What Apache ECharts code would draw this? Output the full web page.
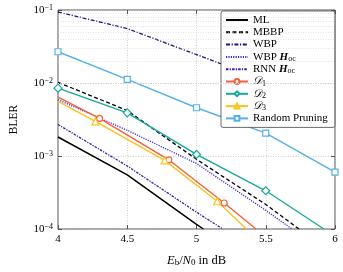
<!DOCTYPE html>
<html><head><meta charset="utf-8">
<script src="https://cdn.jsdelivr.net/npm/echarts@6/dist/echarts.min.js"></script>
<style>html,body{margin:0;padding:0;background:#fff}#c{width:343px;height:272px}</style>
</head><body><div id="c"></div>
<script>
// ---- data ----
const xTicks = [4, 4.5, 5, 5.5, 6];
const seriesNames = ['ML', 'MBBP', 'WBP', 'WBP Hoc', 'RNN Hoc', 'D1', 'D2', 'D3', 'Random Pruning'];
const noMarker = ['ML', 'MBBP', 'WBP', 'WBP Hoc', 'RNN Hoc'];
const xML = [4, 4.5, 5, 5.05];
const yML = [0.00182, 0.00055, 0.000116, 0.0001];
const xMBBP = [4, 4.5, 5, 5.5, 5.74];
const yMBBP = [0.0102, 0.0042, 0.0009, 0.000217, 0.0001];
const xWBP = [4, 4.5, 5, 5.5, 6];
const yWBP = [0.094, 0.0557, 0.0245, 0.0108, 0.0047];
const xWBPH = [4, 4.5, 5, 5.5, 5.69];
const yWBPH = [0.0059, 0.00225, 0.00079, 0.00018, 0.0001];
const xRNN = [4, 4.5, 5, 5.19];
const yRNN = [0.0027, 0.00073, 0.00017, 0.0001];
const xD1 = [4, 4.3, 4.8, 5.2, 5.43];
const yD1 = [0.0064, 0.00327, 0.000887, 0.000227, 0.0001];
const mD1 = [0, 1, 1, 1, 0];
const xD2 = [4, 4.5, 5, 5.5, 5.92];
const yD2 = [0.0085, 0.0039, 0.00105, 0.000334, 0.0001];
const mD2 = [1, 1, 1, 1, 0];
const xD3 = [4, 4.27, 4.77, 5.15, 5.36];
const yD3 = [0.0056, 0.00298, 0.00087, 0.00024, 0.0001];
const mD3 = [0, 1, 1, 1, 0];
const xRP = [4, 4.5, 5, 5.5, 6];
const yRP = [0.0268, 0.0112, 0.00458, 0.00206, 0.0006];
const mRP = [1, 1, 1, 1, 1];
const minorY = [2,3,4,5,6,7,8,9].flatMap(k => [k*1e-4, k*1e-3, k*1e-2]);

const FONT = 'Liberation Serif';
function pts(xs, ys, ms) {
  return xs.map((x, i) => {
    const d = { value: [x, ys[i]] };
    if (ms && !ms[i]) d.symbol = 'none';
    return d;
  });
}
function lineSeries(name, xs, ys, color, type, width, symbol, ms, extra) {
  return Object.assign({
    name, type: 'line', data: pts(xs, ys, ms), clip: true,
    symbol: symbol || 'none', symbolSize: 6, showSymbol: true,
    lineStyle: { color, width, type },
    itemStyle: { color: '#fff', borderColor: color, borderWidth: 1.2 },
    emphasis: { disabled: true }, animation: false
  }, extra || {});
}
const sub = { fontSize: 8, lineHeight: 8, padding: [4, 0, 0, 0], verticalAlign: 'bottom', fontFamily: FONT, color: '#000' };
const rich = {
  n: { fontSize: 11, lineHeight: 12, fontFamily: FONT, color: '#000' },
  h: { fontSize: 11, lineHeight: 12, fontFamily: FONT, fontWeight: 'bold', fontStyle: 'italic', color: '#000' },
  d: { fontSize: 11, lineHeight: 12, fontFamily: FONT, fontStyle: 'italic', color: '#000' },
  s: sub
};
const legendText = {
  'ML': '{n|ML}', 'MBBP': '{n|MBBP}', 'WBP': '{n|WBP}',
  'WBP Hoc': '{n|WBP }{h|H}{s|oc}', 'RNN Hoc': '{n|RNN }{h|H}{s|oc}',
  'D1': '{d|𝒟}{s|1}', 'D2': '{d|𝒟}{s|2}', 'D3': '{d|𝒟}{s|3}',
  'Random Pruning': '{n|Random Pruning}'
};
const gridColor = '#bdbdbd';
const chart = echarts.init(document.getElementById('c'), null, { renderer: 'canvas' });
chart.setOption({
  animation: false,
  grid: { left: 52, right: 8, top: 10, bottom: 38, show: true, borderColor: '#555', borderWidth: 1, backgroundColor: 'transparent' },
  legend: {
    orient: 'vertical', left: 221, top: 11,
    data: seriesNames.map(n => noMarker.includes(n)
      ? { name: n, itemStyle: { opacity: 0, borderWidth: 0, color: 'rgba(0,0,0,0)', borderColor: 'rgba(0,0,0,0)' } }
      : { name: n }),
    itemWidth: 22, itemHeight: 6, itemGap: 0.3,
    padding: [3, 7, 3, 4],
    backgroundColor: '#fff', borderColor: '#444', borderWidth: 0.8, borderRadius: 2,
    formatter: n => legendText[n],
    textStyle: { fontFamily: FONT, fontSize: 11, lineHeight: 12, rich },
    selectedMode: false
  },
  xAxis: [{
    type: 'value', min: 4, max: 6, interval: 0.5, position: 'bottom',
    axisLine: { show: false },
    axisTick: { show: true, inside: true, length: 4, lineStyle: { color: '#555' } },
    axisLabel: { fontFamily: FONT, fontSize: 11, color: '#000', margin: 5, formatter: v => String(v) },
    splitLine: { show: true, lineStyle: { color: gridColor, type: [1, 1.5], width: 0.7 } },
    name: '{i|E}{s|b}{n|/}{i|N}{s|0}{n| in dB}', nameLocation: 'middle', nameGap: 25,
    nameTextStyle: { rich: {
      i: { fontSize: 12.5, lineHeight: 13, fontFamily: FONT, fontStyle: 'italic', color: '#000' },
      n: { fontSize: 12.5, lineHeight: 13, fontFamily: FONT, color: '#000' },
      s: { fontSize: 9, lineHeight: 9, padding: [5, 0, 0, 0], verticalAlign: 'bottom', fontFamily: FONT, color: '#000' } } }
  }, {
    type: 'value', min: 4, max: 6, interval: 0.5, position: 'top',
    axisLine: { show: false }, axisLabel: { show: false }, splitLine: { show: false },
    axisTick: { show: true, inside: true, length: 4, lineStyle: { color: '#555' } }
  }],
  yAxis: [{
    type: 'log', logBase: 10, min: 1e-4, max: 1e-1, interval: 1,
    axisLine: { show: false },
    axisTick: { show: true, inside: true, length: 4, lineStyle: { color: '#555' } },
    axisLabel: {
      margin: 5,
      formatter: v => '{b|10}{p|−' + Math.round(-Math.log10(v)) + '}',
      rich: {
        b: { fontSize: 11, lineHeight: 12, fontFamily: FONT, color: '#000' },
        p: { fontSize: 8, lineHeight: 8, padding: [0, 0, 6, 0], verticalAlign: 'top', fontFamily: FONT, color: '#000' }
      }
    },
    splitLine: { show: true, lineStyle: { color: gridColor, type: [1, 1.5], width: 0.7 } },
    name: 'BLER', nameLocation: 'middle', nameGap: 38,
    nameTextStyle: { fontFamily: FONT, fontSize: 11.5, color: '#000' }
  }, {
    type: 'log', logBase: 10, min: 1e-4, max: 1e-1, interval: 1, position: 'right',
    axisLine: { show: false }, axisLabel: { show: false }, splitLine: { show: false },
    axisTick: { show: true, inside: true, length: 4, lineStyle: { color: '#555' } }
  }],
  series: [
    {
      name: '_grid', type: 'line', data: [], silent: true, animation: false,
      markLine: {
        silent: true, symbol: 'none', animation: false, label: { show: false },
        lineStyle: { color: '#d2d2d2', type: [1, 1.5], width: 0.6 },
        emphasis: { disabled: true },
        data: minorY.map(v => ({ yAxis: v }))
      }
    },
    lineSeries('ML', xML, yML, '#000', 'solid', 1.5),
    lineSeries('MBBP', xMBBP, yMBBP, '#000', [4, 2.5], 1.3),
    lineSeries('WBP', xWBP, yWBP, '#2a1080', [4, 1.6, 1.2, 1.6], 1.3),
    lineSeries('WBP Hoc', xWBPH, yWBPH, '#3d2bd0', [1.2, 1.2], 1.3),
    lineSeries('RNN Hoc', xRNN, yRNN, '#3a1aa8', [2.5, 1.2, 1.2, 1.2], 1.3),
    lineSeries('D1', xD1, yD1, '#f3603a', 'solid', 1.4, 'circle', mD1),
    lineSeries('D2', xD2, yD2, '#18a999', 'solid', 1.4, 'diamond', mD2, { symbolSize: 8 }),
    lineSeries('D3', xD3, yD3, '#fbc21a', 'solid', 1.4, 'triangle', mD3, { symbolSize: 7 }),
    lineSeries('Random Pruning', xRP, yRP, '#56b1e6', 'solid', 1.4, 'rect', mRP)
  ]
});
</script></body></html>
